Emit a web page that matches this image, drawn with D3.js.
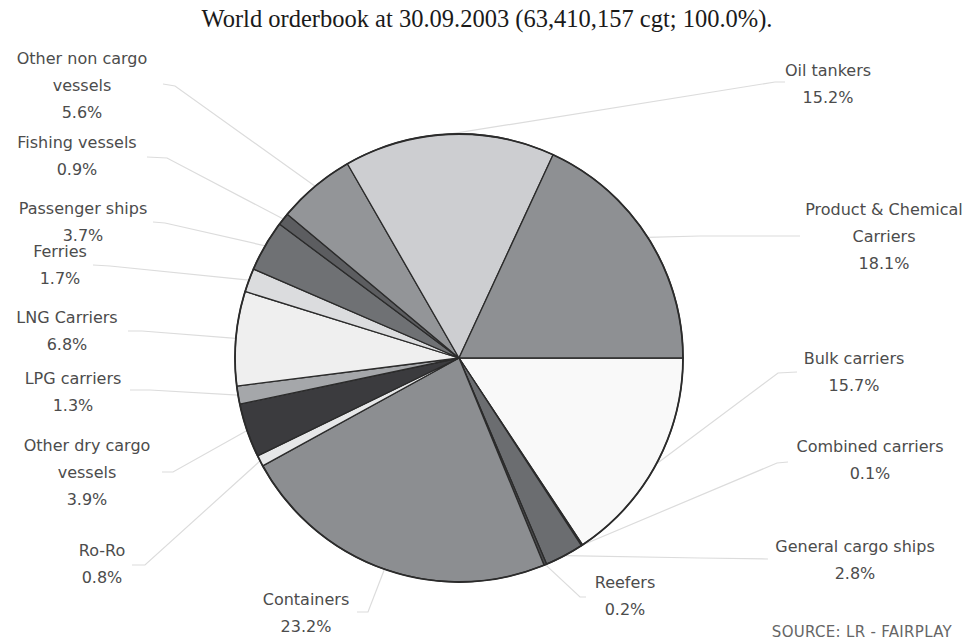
<!DOCTYPE html>
<html>
<head>
<meta charset="utf-8">
<script src="https://cdn.jsdelivr.net/npm/d3@7/dist/d3.min.js"></script>
<style>
  html, body { margin: 0; padding: 0; background: #ffffff; }
  svg { display: block; }
</style>
</head>
<body>
<svg id="chart" width="967" height="640"></svg>
<script>
// Ship types on order, clockwise from 3 o'clock
const categories = [
  "Bulk carriers", "Combined carriers", "General cargo ships", "Reefers",
  "Containers", "Ro-Ro", "Other dry cargo vessels", "LPG carriers",
  "LNG Carriers", "Ferries", "Passenger ships", "Fishing vessels",
  "Other non cargo vessels", "Oil tankers", "Product & Chemical Carriers"
];
// Share of world orderbook (% of cgt)
const shares = [15.7, 0.1, 2.8, 0.2, 23.2, 0.8, 3.9, 1.3, 6.8, 1.7, 3.7, 0.9, 5.6, 15.2, 18.1];
// How each category name is broken over lines
const labelLines = [
  ["Bulk carriers"], ["Combined carriers"], ["General cargo ships"], ["Reefers"],
  ["Containers"], ["Ro-Ro"], ["Other dry cargo", "vessels"], ["LPG carriers"],
  ["LNG Carriers"], ["Ferries"], ["Passenger ships"], ["Fishing vessels"],
  ["Other non cargo", "vessels"], ["Oil tankers"], ["Product & Chemical", "Carriers"]
];
const sliceFills = [
  "#f9f9f9", "#505052", "#6b6d70", "#4a4b4d",
  "#8c8e91", "#e6e7e8", "#3b3b3e", "#a5a7aa",
  "#efefef", "#dbdcde", "#6f7174", "#5c5d60",
  "#939598", "#cdced1", "#8e9093"
];

// Label placement: text centre x, first baseline y, leader elbow and end
const labelLayout = [
  { x: 854, y: 364, elbow: [778, 373], end: [797, 372] },
  { x: 870, y: 452, elbow: [777, 463], end: [788, 462] },
  { x: 855, y: 552, elbow: [700, 558], end: [768, 559] },
  { x: 625, y: 588, elbow: [580, 597], end: [586, 597] },
  { x: 306, y: 605, elbow: [368, 612], end: [357, 612] },
  { x: 102, y: 556, elbow: [145, 565], end: [132, 565] },
  { x: 87,  y: 451, elbow: [173, 472], end: [162, 472] },
  { x: 73,  y: 384, elbow: [150, 390], end: [130, 390] },
  { x: 67,  y: 323, elbow: [142, 331], end: [128, 331] },
  { x: 60,  y: 257, elbow: [110, 266], end: [93, 265] },
  { x: 83,  y: 214, elbow: [165, 223], end: [153, 222] },
  { x: 77,  y: 148, elbow: [167, 158], end: [147, 157] },
  { x: 82,  y: 64,  elbow: [175, 86],  end: [163, 84] },
  { x: 828, y: 76,  elbow: [775, 82],  end: [785, 82] },
  { x: 884, y: 215, elbow: [700, 236], end: [800, 236] }
];

const titleText = "World orderbook at 30.09.2003 (63,410,157 cgt; 100.0%).";
const sourceText = "SOURCE: LR - FAIRPLAY";

const svg = d3.select("#chart");
const cx = 459, cy = 358, radius = 224;
const lineGap = 27;
const labelFont = "'DejaVu Sans', sans-serif";

const data = categories.map((name, i) => ({
  name, value: shares[i], lines: labelLines[i], fill: sliceFills[i], layout: labelLayout[i]
}));

const pie = d3.pie()
  .value(d => d.value)
  .sort(null)
  .startAngle(Math.PI / 2)
  .endAngle(Math.PI / 2 + 2 * Math.PI);

const arcs = pie(data);
const arc = d3.arc().innerRadius(0).outerRadius(radius);
const rimArc = d3.arc().innerRadius(radius).outerRadius(radius);

// Title
svg.append("text")
  .attr("x", 487).attr("y", 27)
  .attr("text-anchor", "middle")
  .style("font-family", "'Liberation Serif', 'Times New Roman', serif")
  .style("font-size", "24.5px")
  .style("fill", "#1a1a1a")
  .text(titleText);

// Leader lines (drawn under the pie)
const leaders = svg.append("g").attr("transform", `translate(${cx},${cy})`);
leaders.selectAll("polyline")
  .data(arcs)
  .join("polyline")
  .attr("points", d => {
    const s = rimArc.centroid(d);
    const e = [d.data.layout.elbow[0] - cx, d.data.layout.elbow[1] - cy];
    const t = [d.data.layout.end[0] - cx, d.data.layout.end[1] - cy];
    return [s, e, t].map(p => p.join(",")).join(" ");
  })
  .attr("fill", "none")
  .attr("stroke", "#dcdcdc")
  .attr("stroke-width", 1.2);

// Slices
const pieG = svg.append("g").attr("transform", `translate(${cx},${cy})`);
pieG.selectAll("path")
  .data(arcs)
  .join("path")
  .attr("d", arc)
  .attr("fill", d => d.data.fill)
  .attr("stroke", "#2b2b2b")
  .attr("stroke-width", 1.3)
  .attr("stroke-linejoin", "round");

pieG.append("circle")
  .attr("r", radius)
  .attr("fill", "none")
  .attr("stroke", "#2b2b2b")
  .attr("stroke-width", 1.8);

// Category labels with percentages
const labels = svg.append("g");
data.forEach(d => {
  const t = labels.append("text")
    .attr("text-anchor", "middle")
    .style("font-family", labelFont)
    .style("font-size", "16px")
    .style("fill", "#4c4c4c");
  const rows = d.lines.concat([d3.format(".1f")(d.value) + "%"]);
  rows.forEach((row, k) => {
    t.append("tspan")
      .attr("x", d.layout.x)
      .attr("y", d.layout.y + k * lineGap)
      .text(row);
  });
});

// Source note
svg.append("text")
  .attr("x", 952).attr("y", 637)
  .attr("text-anchor", "end")
  .style("font-family", labelFont)
  .style("font-size", "15px")
  .style("letter-spacing", "0.3px")
  .style("fill", "#666666")
  .text(sourceText);
</script>
</body>
</html>
